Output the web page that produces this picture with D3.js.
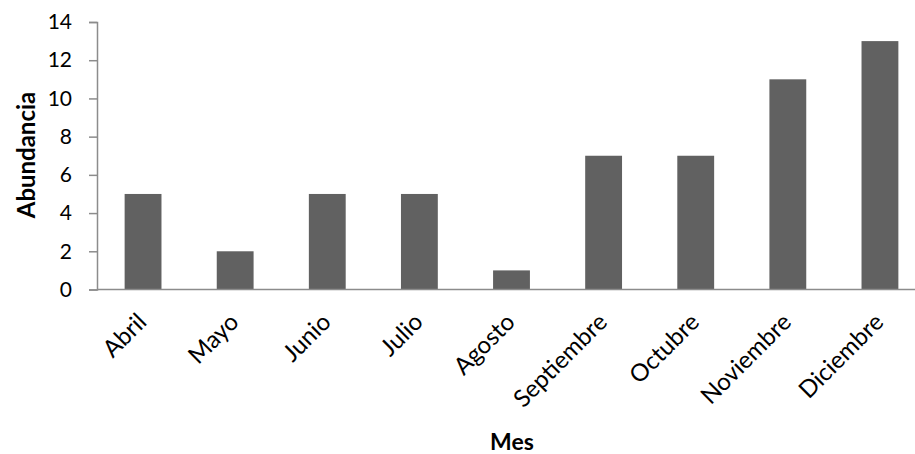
<!DOCTYPE html>
<html>
<head>
<meta charset="utf-8">
<script src="https://cdn.jsdelivr.net/npm/d3@7"></script>
<style>
  html, body { margin: 0; padding: 0; background: #fff; }
  svg text { font-family: Lato, "Open Sans", sans-serif; fill: #000; }
</style>
</head>
<body>
<svg id="chart" width="915" height="454"></svg>
<script>
// Monthly abundance
const months = ["Abril", "Mayo", "Junio", "Julio", "Agosto", "Septiembre", "Octubre", "Noviembre", "Diciembre"];
const abundance = [5, 2, 5, 5, 1, 7, 7, 11, 13];
const yTicks = [0, 2, 4, 6, 8, 10, 12, 14];
const xTitle = "Mes";
const yTitle = "Abundancia";

const svg = d3.select("#chart");
const plotLeft = 97, plotTop = 22, plotBottom = 289.5, plotRight = 926;

const x = d3.scaleBand().domain(months).range([plotLeft, plotRight]).paddingInner(0.6).paddingOuter(0.3);
const y = d3.scaleLinear().domain([0, 14]).range([plotBottom, plotTop]);

// bars
svg.append("g").selectAll("rect")
  .data(months.map((m, i) => ({ m, v: abundance[i] })))
  .join("rect")
  .attr("x", d => x(d.m))
  .attr("y", d => y(d.v))
  .attr("width", x.bandwidth())
  .attr("height", d => y(0) - y(d.v))
  .attr("fill", "#616161");

// y axis
const yAxis = svg.append("g")
  .attr("transform", `translate(${plotLeft},0)`)
  .call(d3.axisLeft(y).tickValues(yTicks).tickSize(8).tickPadding(17).tickFormat(d3.format("d")));
yAxis.select(".domain").attr("stroke", "#8c8c8c").attr("stroke-width", 1.5);
yAxis.selectAll(".tick line").attr("stroke", "#8c8c8c").attr("stroke-width", 1.5);
yAxis.selectAll(".tick text").attr("font-size", 21).attr("font-family", "Lato, sans-serif").attr("fill", "#000");

// x axis baseline
svg.append("line")
  .attr("x1", plotLeft).attr("x2", plotRight)
  .attr("y1", y(0)).attr("y2", y(0))
  .attr("stroke", "#8c8c8c").attr("stroke-width", 1.5);

// month labels, rotated
svg.append("g").selectAll("text")
  .data(months)
  .join("text")
  .attr("transform", d => `translate(${x(d) + x.bandwidth() / 2 + 5},${plotBottom + 34}) rotate(-45)`)
  .attr("text-anchor", "end")
  .attr("font-size", 24)
  .text(d => d);

// axis titles
svg.append("text")
  .attr("x", 512)
  .attr("y", 450)
  .attr("text-anchor", "middle")
  .attr("font-size", 23)
  .attr("font-weight", "bold")
  .text(xTitle);

svg.append("text")
  .attr("transform", `translate(35,155) rotate(-90)`)
  .attr("text-anchor", "middle")
  .attr("font-size", 24)
  .attr("font-weight", "bold")
  .text(yTitle);
</script>
</body>
</html>
